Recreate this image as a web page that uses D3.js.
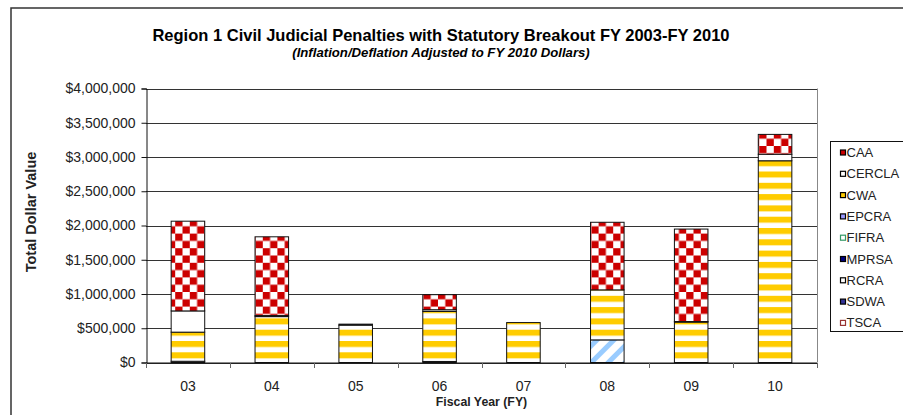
<!DOCTYPE html>
<html>
<head>
<meta charset="utf-8">
<script src="https://cdn.jsdelivr.net/npm/d3@7"></script>
<style>
  body { margin: 0; background: #fff; }
  svg { display: block; font-family: Arial, "Liberation Sans", sans-serif; }
</style>
</head>
<body>
<div id="chart"></div>
<script>
// Chart data
var years = ["03", "04", "05", "06", "07", "08", "09", "10"];
var legendOrder = ["CAA", "CERCLA", "CWA", "EPCRA", "FIFRA", "MPRSA", "RCRA", "SDWA", "TSCA"];
var CAA    = [1310000, 1150000, 0, 220000, 0, 987000, 1350000, 290000];
var CERCLA = [310000, 15000, 15000, 25000, 0, 0, 8000, 95000];
var CWA    = [425000, 670000, 545000, 730000, 583000, 730000, 590000, 2945000];
var EPCRA  = [0, 0, 0, 0, 0, 330000, 0, 0];
var FIFRA  = [0, 0, 0, 0, 0, 0, 0, 0];
var MPRSA  = [0, 0, 0, 0, 0, 0, 0, 0];
var RCRA   = [18000, 0, 0, 15000, 0, 0, 0, 0];
var SDWA   = [0, 0, 0, 0, 0, 0, 0, 0];
var TSCA   = [0, 0, 0, 0, 0, 0, 0, 0];
var yTicks = [0, 500000, 1000000, 1500000, 2000000, 2500000, 3000000, 3500000, 4000000];

var series = {CAA: CAA, CERCLA: CERCLA, CWA: CWA, EPCRA: EPCRA, FIFRA: FIFRA,
              MPRSA: MPRSA, RCRA: RCRA, SDWA: SDWA, TSCA: TSCA};
var stackKeys = legendOrder.slice().reverse();   // bottom to top
var table = years.map(function(y, i) {
    var row = {year: y};
    stackKeys.forEach(function(k) { row[k] = series[k][i]; });
    return row;
});

var svgWidth = 903;
var svgHeight = 415;
var plot = {left: 146, right: 817, top: 88.5, bottom: 362.5};

var svg = d3.select("#chart").append("svg")
    .attr("width", svgWidth)
    .attr("height", svgHeight);

// Patterns
var defs = svg.append("defs");
var checker = defs.append("pattern").attr("id", "p-CAA")
    .attr("patternUnits", "userSpaceOnUse").attr("width", 14.6).attr("height", 14.6);
checker.append("rect").attr("width", 14.6).attr("height", 14.6).attr("fill", "#fff");
checker.append("rect").attr("width", 7.3).attr("height", 7.3).attr("fill", "#cc0000");
checker.append("rect").attr("x", 7.3).attr("y", 7.3).attr("width", 7.3).attr("height", 7.3).attr("fill", "#cc0000");

var stripes = defs.append("pattern").attr("id", "p-CWA")
    .attr("patternUnits", "userSpaceOnUse").attr("width", 10).attr("height", 11.3)
    .attr("y", 2);
stripes.append("rect").attr("width", 10).attr("height", 11.3).attr("fill", "#fff");
stripes.append("rect").attr("width", 10).attr("height", 6).attr("fill", "#ffcc00");

var diag = defs.append("pattern").attr("id", "p-EPCRA")
    .attr("patternUnits", "userSpaceOnUse").attr("width", 12).attr("height", 12)
    .attr("patternTransform", "rotate(45)");
diag.append("rect").attr("width", 12).attr("height", 12).attr("fill", "#fff");
diag.append("rect").attr("width", 5).attr("height", 12).attr("fill", "#99ccff");

var fills = {CAA: "url(#p-CAA)", CERCLA: "#fff", CWA: "url(#p-CWA)", EPCRA: "url(#p-EPCRA)",
             FIFRA: "#fff", MPRSA: "#000080", RCRA: "#fff", SDWA: "#fff", TSCA: "#fff"};
var keyFills = {CAA: "#cc0000", CERCLA: "#fff", CWA: "#ffcc00", EPCRA: "#9999ff",
                FIFRA: "#fff", MPRSA: "#000080", RCRA: "#fff", SDWA: "#333399", TSCA: "#fff"};
var keyStrokes = {CAA: "#000", CERCLA: "#000", CWA: "#000", EPCRA: "#000",
                  FIFRA: "#339966", MPRSA: "#000", RCRA: "#000", SDWA: "#000", TSCA: "#993333"};

// Outer chart border
svg.append("rect")
    .attr("x", 11).attr("y", 8)
    .attr("width", 1000).attr("height", 600)
    .attr("fill", "none").attr("stroke", "#333").attr("stroke-width", 1.5);

// Scales
var x = d3.scaleBand().domain(years)
    .range([plot.left, plot.right])
    .paddingInner(0.6).paddingOuter(0.3);
var y = d3.scaleLinear().domain([0, 4000000]).range([plot.bottom, plot.top]);

// Gridlines
svg.append("g").selectAll("line").data(yTicks).join("line")
    .attr("x1", plot.left).attr("x2", plot.right)
    .attr("y1", function(d) { return Math.round(y(d)) + 0.5; })
    .attr("y2", function(d) { return Math.round(y(d)) + 0.5; })
    .attr("stroke", "#333").attr("stroke-width", 1);

// Plot right edge
svg.append("line")
    .attr("x1", plot.right + 0.5).attr("x2", plot.right + 0.5)
    .attr("y1", y(4000000)).attr("y2", y(0))
    .attr("stroke", "#888");

// Stacked bars
var stacked = d3.stack().keys(stackKeys)(table);
var layers = svg.append("g").selectAll("g").data(stacked).join("g")
    .attr("fill", function(d) { return fills[d.key]; });
layers.selectAll("rect")
    .data(function(d) { return d.filter(function(s) { return s[1] - s[0] > 0; }); })
    .join("rect")
    .attr("x", function(d) { return x(d.data.year); })
    .attr("width", x.bandwidth())
    .attr("y", function(d) { return y(d[1]); })
    .attr("height", function(d) { return y(d[0]) - y(d[1]); })
    .attr("stroke", "#111").attr("stroke-width", 1);

// Y axis
var leftAxis = d3.axisLeft(y).tickValues(yTicks).tickSize(5).tickPadding(6)
    .tickFormat(function(d) { return "$" + d3.format(",")(d); });
var yAxis = svg.append("g")
    .attr("transform", "translate(" + (plot.left + 0.5) + ",0)")
    .call(leftAxis);
yAxis.select(".domain").attr("stroke", "#111");
yAxis.selectAll(".tick line").attr("stroke", "#111");
yAxis.selectAll("text").attr("font-size", 14).attr("fill", "#222")
    .attr("font-family", "Arial, 'Liberation Sans', sans-serif");

// X axis (ticks at category boundaries)
var xAxis = svg.append("g")
    .attr("transform", "translate(0," + (plot.bottom + 0.5) + ")");
xAxis.append("line")
    .attr("x1", plot.left).attr("x2", plot.right)
    .attr("stroke", "#111");
var bounds = d3.range(years.length + 1).map(function(i) { return plot.left + i * x.step(); });
xAxis.selectAll(".xt").data(bounds).join("line").attr("class", "xt")
    .attr("x1", function(d) { return Math.round(d) + 0.5; })
    .attr("x2", function(d) { return Math.round(d) + 0.5; })
    .attr("y1", 0).attr("y2", 5).attr("stroke", "#666");
xAxis.selectAll("text").data(years).join("text")
    .attr("x", function(d) { return x(d) + x.bandwidth() / 2; })
    .attr("y", 27.5)
    .attr("text-anchor", "middle")
    .attr("font-size", 14).attr("fill", "#222")
    .text(function(d) { return d; });

// Titles
svg.append("text").attr("x", 441).attr("y", 41)
    .attr("text-anchor", "middle").attr("font-size", 16.5).attr("font-weight", "bold")
    .text("Region 1 Civil Judicial Penalties with Statutory Breakout FY 2003-FY 2010");
svg.append("text").attr("x", 441).attr("y", 57)
    .attr("text-anchor", "middle").attr("font-size", 13.2).attr("font-weight", "bold")
    .attr("font-style", "italic")
    .text("(Inflation/Deflation Adjusted to FY 2010 Dollars)");
svg.append("text").attr("x", (plot.left + plot.right) / 2).attr("y", 406)
    .attr("text-anchor", "middle").attr("font-size", 12.3).attr("font-weight", "bold")
    .attr("fill", "#222")
    .text("Fiscal Year (FY)");
svg.append("text")
    .attr("transform", "translate(36,212) rotate(-90)")
    .attr("text-anchor", "middle").attr("font-size", 14.5).attr("font-weight", "bold")
    .attr("fill", "#222")
    .text("Total Dollar Value");

// Legend
var legend = svg.append("g");
legend.append("rect")
    .attr("x", 830.5).attr("y", 141.5).attr("width", 100).attr("height", 190)
    .attr("fill", "#fff").attr("stroke", "#111");
var items = legend.selectAll(".item").data(legendOrder).join("g").attr("class", "item")
    .attr("transform", function(d, i) { return "translate(0," + (152.5 + i * 21.3) + ")"; });
items.append("rect")
    .attr("x", 840.5).attr("y", -2.5).attr("width", 5).attr("height", 5)
    .attr("fill", function(d) { return keyFills[d]; })
    .attr("stroke", function(d) { return keyStrokes[d]; })
    .attr("stroke-width", 1.2);
items.append("text")
    .attr("x", 846.5).attr("y", 4.5)
    .attr("font-size", 13).attr("fill", "#222")
    .text(function(d) { return d; });
</script>
</body>
</html>
